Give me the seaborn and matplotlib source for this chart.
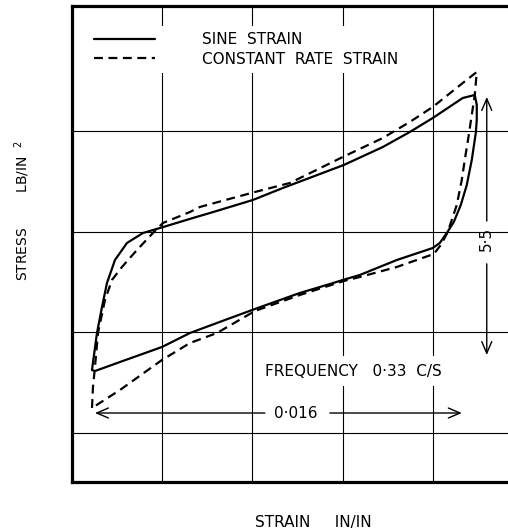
import matplotlib
matplotlib.use("Agg")
import matplotlib.pyplot as plt
import numpy as np
import pandas as pd
import seaborn as sns

# Hysteresis loops: strain in units of 1e-3 in/in, stress in lb/in^2
sine_strain = [0.886, 1.108, 1.330, 1.551, 1.906, 2.438, 3.147, 3.900, 5.363, 6.116,
               8.022, 9.352, 12.055, 13.784, 14.981, 15.999, 17.329, 17.861, 17.950,
               17.950, 17.906, 17.728, 17.507, 17.241, 16.931, 16.620, 16.310, 15.999,
               14.404, 12.764, 12.011, 11.435, 10.105, 8.111, 6.427, 5.230, 3.989,
               2.127, 1.019, 0.886]
sine_stress = [1.251, 1.986, 2.502, 2.979, 3.436, 3.774, 3.972, 4.071, 4.270, 4.369,
               4.628, 4.866, 5.323, 5.680, 5.978, 6.256, 6.653, 6.713, 6.514,
               6.216, 5.958, 5.422, 4.926, 4.528, 4.191, 3.972, 3.774, 3.674,
               3.436, 3.138, 3.039, 2.959, 2.781, 2.463, 2.185, 1.986, 1.708,
               1.410, 1.231, 1.251]

const_strain = [0.886, 0.931, 1.019, 1.152, 1.463, 1.773, 2.216, 2.881, 3.590, 4.033,
                5.230, 5.673, 8.111, 9.662, 12.011, 13.784, 14.981, 15.999, 17.329,
                17.950, 17.861, 17.728, 17.595, 17.418, 17.285, 17.063, 16.664, 16.354,
                16.044, 14.404, 12.764, 12.055, 10.105, 8.111, 6.427, 5.230, 3.989,
                2.127, 0.886]
const_stress = [0.497, 0.914, 1.311, 1.986, 2.642, 3.039, 3.297, 3.635, 3.972, 4.171,
                4.389, 4.489, 4.786, 4.965, 5.482, 5.859, 6.177, 6.475, 6.951,
                7.170, 6.713, 6.316, 5.918, 5.422, 5.025, 4.528, 3.992, 3.734,
                3.555, 3.297, 3.098, 3.019, 2.741, 2.423, 1.986, 1.787, 1.450,
                0.854, 0.497]

series_names = ["SINE  STRAIN", "CONSTANT  RATE  STRAIN"]

# Annotated quantities
strain_span = [1.019, 17.285]     # 0.016 in/in double arrow
stress_span = [1.549, 6.673]      # 5.5 lb/in^2 double arrow
strain_label = "0·016"
stress_label = "5·5"
freq_label = "FREQUENCY   0·33  C/S"

df = pd.concat([
    pd.DataFrame({"strain": sine_strain, "stress": sine_stress, "series": series_names[0]}),
    pd.DataFrame({"strain": const_strain, "stress": const_stress, "series": series_names[1]}),
], ignore_index=True)

sns.set_theme(style="white")
plt.rcParams["font.family"] = ["DejaVu Sans"]
plt.rcParams["mathtext.fontset"] = "dejavusans"
plt.rcParams["text.color"] = "black"
plt.rcParams["axes.labelcolor"] = "black"

fig = plt.figure(figsize=(5.08, 5.32), dpi=100)
ax = fig.add_axes([72 / 508, 50 / 532, 451 / 508, 476 / 532])

sns.lineplot(data=df, x="strain", y="stress", hue="series", style="series",
             palette=["black", "black"], dashes={series_names[0]: "", series_names[1]: (4, 2.5)},
             sort=False, estimator=None, linewidth=1.6, ax=ax)

ax.set_xlim(0, 20)
ax.set_ylim(-0.973, 8.48)
ax.set_xticks([4, 8, 12, 16])
ax.set_yticks([0, 2, 4, 6])
ax.tick_params(length=0, labelbottom=False, labelleft=False)
ax.grid(True, color="black", linewidth=0.8)
for s in ax.spines.values():
    s.set_color("black")
    s.set_linewidth(2.3)

handles, labels = ax.get_legend_handles_labels()
ax.legend(handles, labels, loc="upper left", bbox_to_anchor=(0.035, 0.958),
          bbox_transform=ax.transAxes, borderaxespad=0, fontsize=11,
          handlelength=4.0, handletextpad=3.1, labelspacing=0.3,
          frameon=True, facecolor="white", edgecolor="none", framealpha=1,
          fancybox=False)

# Strain amplitude arrow
y_arrow = 0.397
ax.text(9.906, y_arrow, strain_label, ha="center", va="center", fontsize=11)
arrow_kw = dict(arrowstyle="->,head_length=0.7,head_width=0.3", color="black", lw=1.0,
                shrinkA=0, shrinkB=0)
ax.annotate("", xy=(strain_span[0], y_arrow), xytext=(8.554, y_arrow), arrowprops=arrow_kw)
ax.annotate("", xy=(strain_span[1], y_arrow), xytext=(11.435, y_arrow), arrowprops=arrow_kw)

# Stress amplitude arrow
x_arrow = 18.393
ax.text(x_arrow, 3.853, stress_label, ha="center", va="center", rotation=90, fontsize=11)
ax.annotate("", xy=(x_arrow, stress_span[1]), xytext=(x_arrow, 4.21), arrowprops=arrow_kw)
ax.annotate("", xy=(x_arrow, stress_span[0]), xytext=(x_arrow, 3.36), arrowprops=arrow_kw)

ax.text(8.554, 1.231, freq_label, ha="left", va="center", fontsize=11, zorder=3,
        bbox=dict(boxstyle="square,pad=0.5", fc="white", ec="none"))

ax.set_xlabel("STRAIN     IN/IN", fontsize=11)
ax.xaxis.set_label_coords((313 - 72) / 451, (482 - 522) / 476)
ax.xaxis.label.set_va("center")
ax.set_ylabel("STRESS        LB/IN  $^{2}$", fontsize=10)
ax.yaxis.set_label_coords((22 - 72) / 451, (482 - 210) / 476)
ax.yaxis.label.set_va("center")

fig.savefig("out.png", dpi=100)
